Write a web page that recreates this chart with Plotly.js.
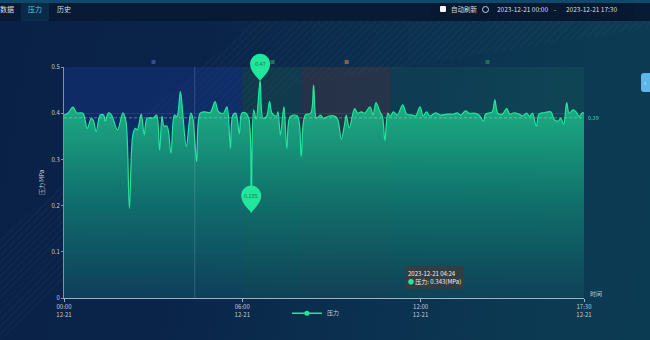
<!DOCTYPE html>
<html>
<head>
<meta charset="utf-8">
<script src="https://cdn.plot.ly/plotly-3.0.1.min.js"></script>
<style>
  html,body{margin:0;padding:0;width:650px;height:340px;overflow:hidden;font-family:"Noto Sans CJK SC","Noto Sans",sans-serif;}
  #bg{position:absolute;left:0;top:0;width:650px;height:340px;
    background:linear-gradient(100deg,#0a2147 0%,#0a2449 30%,#0b3150 60%,#0c3a52 85%,#0b3b53 100%);}
  #stripes{position:absolute;left:0;top:0;width:650px;height:340px;
    background:repeating-linear-gradient(135deg,rgba(255,255,255,0.025) 0px,rgba(255,255,255,0.025) 2px,rgba(0,0,0,0) 2px,rgba(0,0,0,0) 5px);
    clip-path:polygon(0 70%,40% 5%,75% 0,100% 0,100% 8%,45% 25%,0 100%);opacity:0.9;}
  #topbar{position:absolute;left:0;top:0;width:650px;height:21px;background:#081b35;border-top:3px solid #0d4a6b;box-sizing:border-box;}
  .t{position:absolute;top:4px;font-size:7px;color:#d7dde6;line-height:10px;white-space:nowrap;}
  #tab{position:absolute;left:21px;top:3px;width:28px;height:18px;background:#0a2a48;}
  #rbox{position:absolute;left:431px;top:3px;width:204px;height:18px;background:#071830;}
  #chk{position:absolute;left:440px;top:6px;width:6px;height:6px;background:#f2f4f7;border-radius:1px;}
  #clock{position:absolute;left:482px;top:6px;width:5px;height:5px;border:1px solid #c9d1dc;border-radius:50%;}
  #btn{position:absolute;left:641px;top:73px;width:12px;height:19px;background:#5db6e6;border-radius:3px;}
  #btn span{position:absolute;left:3px;top:5px;font-size:7px;color:#fff;line-height:8px;}
  #plot{position:absolute;left:0;top:0;width:650px;height:340px;}
</style>
</head>
<body>
<div id="bg"></div>
<div id="stripes"></div>
<div id="topbar"></div>
<div id="tab"></div>
<div id="rbox"></div>
<div class="t" style="left:0px;">数据</div>
<div class="t" style="left:28px;color:#3fd6e4;">压力</div>
<div class="t" style="left:57px;">历史</div>
<div id="chk"></div>
<div class="t" style="left:451px;font-size:6.5px;">自动刷新</div>
<div id="clock"></div>
<div class="t" style="left:497px;font-size:6.5px;">2023-12-21 00:00</div>
<div class="t" style="left:554px;font-size:6.5px;">-</div>
<div class="t" style="left:566px;font-size:6.5px;">2023-12-21 17:30</div>
<div id="btn"><span>‹</span></div>
<div id="plot"></div>
<script>
// ---- data ----
const day = '2023-12-21';
const times = ['00:00','00:08','00:18','00:26','00:38','00:47','00:55','00:59','01:05','01:13','01:20','01:23','01:30','01:36','01:48','01:59','02:05','02:12','02:19','02:24','02:28','02:36','02:42','02:48','03:01','03:07','03:13','03:18','03:22','03:28','03:36','03:43','03:48','03:55','04:00','04:07','04:16','04:20','04:24','04:28','04:35','04:45','04:55','05:05','05:12','05:22','05:29','05:36','05:41','05:47','05:54','05:59','06:06','06:13','06:18','06:23','06:28','06:36','06:42','06:49','06:55','07:00','07:09','07:12','07:17','07:24','07:30','07:37','07:51','07:59','08:07','08:18','08:24','08:30','08:38','08:44','08:55','09:08','09:13','09:20','09:26','09:30','09:36','09:47','09:53','10:00','10:07','10:18','10:24','10:30','10:38','10:43','10:48','10:54','10:59','11:05','11:13','11:24','11:32','11:43','11:50','11:59','12:05','12:12','12:19','12:30','12:40','12:54','13:07','13:14','13:21','13:31','13:38','13:48','13:58','14:07','14:11','14:20','14:25','14:30','14:36','14:45','14:54','15:00','15:09','15:19','15:26','15:34','15:40','15:46','15:49','15:54','15:59','16:09','16:23','16:30','16:38','16:43','16:49','16:55','17:00','17:08','17:14','17:20','17:27','17:30'];
const pressure = [0.396,0.400,0.413,0.401,0.400,0.367,0.389,0.385,0.360,0.396,0.396,0.382,0.401,0.396,0.364,0.401,0.383,0.194,0.353,0.367,0.364,0.398,0.353,0.389,0.390,0.396,0.320,0.393,0.372,0.372,0.313,0.396,0.393,0.447,0.396,0.328,0.400,0.390,0.343,0.295,0.400,0.403,0.401,0.425,0.403,0.400,0.414,0.324,0.396,0.400,0.356,0.400,0.401,0.389,0.185,0.407,0.387,0.470,0.389,0.393,0.425,0.400,0.394,0.403,0.353,0.414,0.324,0.393,0.394,0.306,0.396,0.400,0.461,0.389,0.396,0.389,0.394,0.393,0.386,0.344,0.372,0.396,0.368,0.410,0.400,0.403,0.400,0.414,0.396,0.423,0.403,0.393,0.340,0.400,0.393,0.403,0.396,0.418,0.398,0.396,0.394,0.414,0.394,0.403,0.394,0.401,0.396,0.398,0.398,0.401,0.396,0.405,0.400,0.400,0.396,0.383,0.398,0.401,0.403,0.429,0.400,0.398,0.410,0.398,0.401,0.398,0.394,0.400,0.393,0.400,0.389,0.372,0.398,0.401,0.403,0.386,0.383,0.389,0.376,0.423,0.400,0.407,0.403,0.393,0.401,0.400];
const avgValue = 0.39;
const maxPoint = {t:'06:36', v:0.47, label:'0.47'};
const minPoint = {t:'06:18', v:0.185, label:'0.185'};
const tooltipTime = '04:24';
const tooltipValue = 0.343;
const areaStart = ['00:00','06:00','08:00','11:00'];
const areaEnd   = ['06:00','08:00','11:00','17:30'];
const tickTimes = ['00:00','06:00','12:00','17:30'];
const tickLabels = ['00:00<br>12-21','06:00<br>12-21','12:00<br>12-21','17:30<br>12-21'];
const yTicks = [0,0.1,0.2,0.3,0.4,0.5];
const yRange = [0,0.5];
const seriesName = '压力';
const yTitle = '压力 MPa';
const xTitle = '时间';

// ---- build ----
const D = t => day + ' ' + t;
const mins = t => { const [h,m] = t.split(':').map(Number); return h*60+m; };
const hm = n => String(Math.floor(n/60)).padStart(2,'0') + ':' + String(Math.round(n%60)).padStart(2,'0');
const xs = times.map(D);
const green = '#22e69b';
const areaColors = ['rgba(25,60,160,0.35)','rgba(40,120,80,0.22)','rgba(110,70,60,0.28)','rgba(40,150,110,0.12)'];
const areaLabelColors = ['rgba(70,100,170,0.7)','rgba(60,140,100,0.7)','rgba(150,110,80,0.85)','rgba(50,120,90,0.8)'];
const tickFont = {size:6, color:'#c3cbd6'};
const yFrac = v => (v - yRange[0]) / (yRange[1] - yRange[0]);

const traces = [
  {x: xs, y: pressure, type:'scatter', mode:'lines', name: seriesName, showlegend:false,
   line:{color:green, width:1.2, shape:'spline', smoothing:1},
   fill:'tozeroy',
   fillgradient:{type:'vertical', start:0, stop:0.47,
     colorscale:[[0,'rgba(14,66,88,0.85)'],[0.45,'rgba(16,118,110,0.9)'],[1,'rgba(33,196,140,0.95)']]},
   hoverinfo:'skip'},
  {x:[null], y:[null], type:'scatter', mode:'lines+markers', name: seriesName, showlegend:true,
   line:{color:green, width:1.5}, marker:{color:green, size:5}}
];

const shapes = [];
const annotations = [];
areaStart.forEach((s,i)=>{
  shapes.push({type:'rect', xref:'x', yref:'y', x0:D(s), x1:D(areaEnd[i]), y0:yRange[0], y1:yRange[1],
    fillcolor:areaColors[i], line:{width:0}, layer:'below'});
  annotations.push({xref:'x', yref:'paper', x:D(hm((mins(s)+mins(areaEnd[i]))/2)), y:1, yanchor:'bottom', yshift:1,
    showarrow:false, text:'■', font:{size:5, color:areaLabelColors[i]}});
});
shapes.push({type:'line', xref:'paper', yref:'y', x0:0, x1:1, y0:avgValue, y1:avgValue,
  line:{color:'rgba(150,235,200,0.55)', width:0.8, dash:'3px,2px'}});
shapes.push({type:'line', xref:'x', yref:'paper', x0:D(tooltipTime), x1:D(tooltipTime), y0:0, y1:1,
  line:{color:'rgba(200,220,230,0.25)', width:0.8}});
const pinPath = 'M 0 0 C -3 4 -10 9 -10 17 C -10 22.5 -5.5 27 0 27 C 5.5 27 10 22.5 10 17 C 10 9 3 4 0 0 Z';
[maxPoint, minPoint].forEach(p=>{
  shapes.push({type:'path', xref:'x', yref:'paper', xsizemode:'pixel', ysizemode:'pixel',
    xanchor:D(p.t), yanchor:yFrac(p.v), path:pinPath, fillcolor:green, line:{width:0}});
  annotations.push({x:D(p.t), y:p.v, xref:'x', yref:'y', yshift:17, showarrow:false,
    text:p.label, font:{size:5.5, color:'#157a58'}});
});
annotations.push({xref:'paper', yref:'y', x:1, y:avgValue, xanchor:'left', xshift:2, showarrow:false,
  text:String(avgValue), font:{size:5.5, color:'#3ed5a2'}});
annotations.push({xref:'paper', yref:'paper', x:1, y:0, xanchor:'left', yanchor:'bottom', xshift:4, yshift:-2, showarrow:false,
  text:xTitle, font:{size:6, color:'#c3cbd6'}});
annotations.push({xref:'paper', yref:'paper', x:0.656, y:0.087, xanchor:'left', yanchor:'middle', showarrow:false,
  align:'left', bgcolor:'rgba(55,60,62,0.85)', borderpad:3, borderwidth:0,
  text: day + ' ' + tooltipTime + '<br><span style="color:'+green+'">●</span> ' + seriesName + ': ' + tooltipValue + '(MPa)',
  font:{size:6, color:'#f0f2f4'}});

const layout = {
  width:650, height:340,
  margin:{l:64, r:66, t:67, b:42},
  paper_bgcolor:'rgba(0,0,0,0)', plot_bgcolor:'rgba(0,0,0,0)',
  font:{family:'"Noto Sans CJK SC","Noto Sans",sans-serif', size:6, color:'#c3cbd6'},
  xaxis:{type:'date', range:[D('00:00'), D('17:30')], tickvals:tickTimes.map(D), ticktext:tickLabels,
    showgrid:false, zeroline:false, showline:true, linecolor:'rgba(210,220,230,0.75)', linewidth:1,
    ticks:'outside', ticklen:3, tickcolor:'rgba(210,220,230,0.75)', tickfont:tickFont, fixedrange:true, automargin:false},
  yaxis:{range:yRange, tickvals:yTicks, ticktext:yTicks.map(String), showgrid:true,
    gridcolor:'rgba(255,255,255,0.08)', gridwidth:1, zeroline:false,
    showline:true, linecolor:'rgba(210,220,230,0.6)', linewidth:1, ticks:'outside', ticklen:2,
    tickcolor:'rgba(210,220,230,0.6)', tickfont:tickFont, automargin:false,
    title:{text:yTitle, font:{size:6, color:'#c3cbd6'}, standoff:6}, fixedrange:true},
  showlegend:true,
  legend:{orientation:'h', xref:'container', yref:'container', x:0.486, xanchor:'center', y:0.079, yanchor:'middle',
    font:{size:6, color:'#c3cbd6'}, bgcolor:'rgba(0,0,0,0)', itemwidth:30},
  shapes:shapes, annotations:annotations
};
Plotly.newPlot('plot', traces, layout, {displayModeBar:false, staticPlot:true});
</script>
</body>
</html>
